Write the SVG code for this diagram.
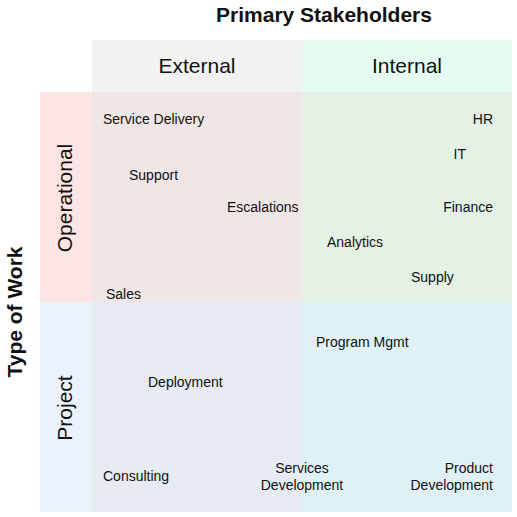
<svg xmlns="http://www.w3.org/2000/svg" width="517" height="517" viewBox="0 0 517 517">
<style>
text{font-family:"Liberation Sans",Arial,sans-serif;fill:#111}
.t{font-size:21px;font-weight:bold}
.h{font-size:21px}
.i{font-size:14px}
.e{text-anchor:end}
.m{text-anchor:middle}
</style>
<rect width="517" height="517" fill="#ffffff"/>
<g id="headers">
<rect x="92" y="40" width="210" height="52" fill="#f2f2f2"/>
<rect x="302" y="40" width="210" height="52" fill="#e5fdf0"/>
<rect x="40" y="92" width="52" height="210" fill="#fde5e5"/>
<rect x="40" y="302" width="52" height="210" fill="#eaf2fd"/>
<text class="t m" x="324" y="22">Primary Stakeholders</text>
<text class="h m" x="197" y="73">External</text>
<text class="h m" x="407" y="73">Internal</text>
<text class="t m" transform="translate(22,312) rotate(-90)">Type of Work</text>
<text class="h m" transform="translate(72,198) rotate(-90)">Operational</text>
<text class="h m" transform="translate(72,408) rotate(-90)">Project</text>
</g>
<g id="cells">
<rect x="92" y="92" width="210" height="210" fill="#f0e6e6"/>
<rect x="302" y="92" width="210" height="210" fill="#e3f2e5"/>
<rect x="92" y="302" width="210" height="210" fill="#e6ebf4"/>
<rect x="302" y="302" width="210" height="210" fill="#dff1f4"/>
</g>
<g id="items">
<text class="i" x="103" y="124">Service Delivery</text>
<text class="i" x="129" y="180">Support</text>
<text class="i" x="227" y="212">Escalations</text>
<text class="i" x="106" y="299">Sales</text>
<text class="i e" x="493" y="124">HR</text>
<text class="i e" x="466" y="159">IT</text>
<text class="i e" x="493" y="212">Finance</text>
<text class="i" x="327" y="247">Analytics</text>
<text class="i" x="411" y="282">Supply</text>
<text class="i" x="316" y="347">Program Mgmt</text>
<text class="i" x="148" y="387">Deployment</text>
<text class="i" x="103" y="481">Consulting</text>
<text class="i m" x="302" y="473">Services</text>
<text class="i m" x="302" y="490">Development</text>
<text class="i e" x="493" y="473">Product</text>
<text class="i e" x="493" y="490">Development</text>
</g>
</svg>
